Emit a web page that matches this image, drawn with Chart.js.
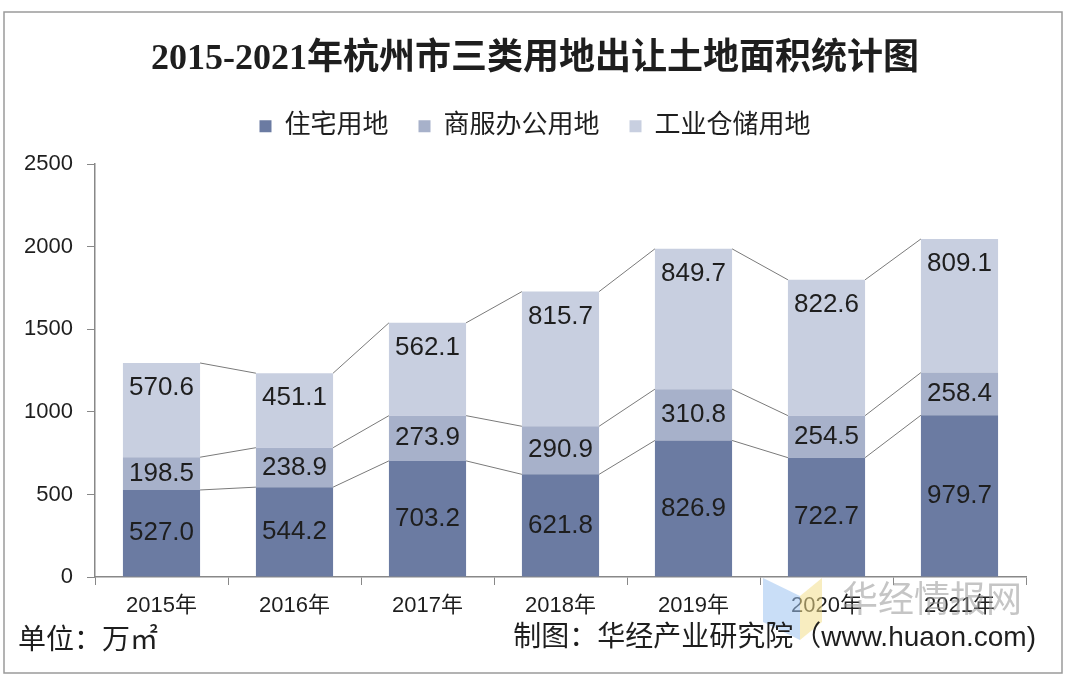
<!DOCTYPE html>
<html>
<head>
<meta charset="utf-8">
<script src="https://cdn.jsdelivr.net/npm/chart.js@4"></script>
<style>
  html, body { margin: 0; padding: 0; background: #fff; }
  canvas { display: block; }
</style>
</head>
<body>
<canvas id="landChart" width="1070" height="688"></canvas>
<script>
// chart data
const years = ['2015年', '2016年', '2017年', '2018年', '2019年', '2020年', '2021年'];
const residential = [527.0, 544.2, 703.2, 621.8, 826.9, 722.7, 979.7];
const commercial = [198.5, 238.9, 273.9, 290.9, 310.8, 254.5, 258.4];
const industrial = [570.6, 451.1, 562.1, 815.7, 849.7, 822.6, 809.1];
const seriesNames = ['住宅用地', '商服办公用地', '工业仓储用地'];
const yTicks = [0, 500, 1000, 1500, 2000, 2500];

const colors = ['#6b7ba2', '#a7b1ca', '#c8cfe0'];
const sansFont = "'Liberation Sans', 'Noto Sans CJK SC', sans-serif";

// Excel-style series lines between stacked bars
const seriesLines = {
    id: 'seriesLines',
    beforeDatasetsDraw(chart) {
        const ctx = chart.ctx;
        ctx.save();
        ctx.strokeStyle = '#7a7a7a';
        ctx.lineWidth = 1;
        chart.data.datasets.forEach((ds, di) => {
            const bars = chart.getDatasetMeta(di).data;
            for (let i = 0; i < bars.length - 1; i++) {
                const a = bars[i], b = bars[i + 1];
                ctx.beginPath();
                ctx.moveTo(a.x + a.width / 2, a.y);
                ctx.lineTo(b.x - b.width / 2, b.y);
                ctx.stroke();
            }
        });
        ctx.restore();
    }
};

// value labels inside each segment
const valueLabels = {
    id: 'valueLabels',
    afterDatasetsDraw(chart) {
        const ctx = chart.ctx;
        ctx.save();
        ctx.font = "26px " + sansFont;
        ctx.fillStyle = '#1e1e1e';
        ctx.textAlign = 'center';
        ctx.textBaseline = 'middle';
        const last = chart.data.datasets.length - 1;
        chart.data.datasets.forEach((ds, di) => {
            chart.getDatasetMeta(di).data.forEach((bar, i) => {
                const y = di === last ? bar.y + 25 : (bar.y + bar.base) / 2;
                ctx.fillText(ds.data[i].toFixed(1), bar.x, y);
            });
        });
        ctx.restore();
    }
};

// frame, footer notes and watermark
const decorations = {
    id: 'decorations',
    afterDraw(chart) {
        const ctx = chart.ctx;
        ctx.save();
        ctx.strokeStyle = '#9a9a9a';
        ctx.lineWidth = 1.5;
        ctx.strokeRect(4, 12, 1058, 661);

        // watermark
        ctx.globalAlpha = 0.55;
        ctx.fillStyle = '#9cc3f0';
        ctx.beginPath();
        ctx.moveTo(763, 578); ctx.lineTo(800, 596); ctx.lineTo(800, 640); ctx.lineTo(763, 622);
        ctx.closePath(); ctx.fill();
        ctx.fillStyle = '#f3df8c';
        ctx.beginPath();
        ctx.moveTo(800, 596); ctx.lineTo(822, 578); ctx.lineTo(822, 622); ctx.lineTo(800, 640);
        ctx.closePath(); ctx.fill();
        ctx.globalAlpha = 1;
        ctx.fillStyle = 'rgba(150,150,150,0.55)';
        ctx.font = "36px 'Noto Sans CJK SC', sans-serif";
        ctx.textAlign = 'left';
        ctx.textBaseline = 'middle';
        ctx.fillText('华经情报网', 842, 598);

        ctx.fillStyle = '#1e1e1e';
        ctx.font = "28px " + sansFont;
        ctx.textBaseline = 'middle';
        ctx.textAlign = 'left';
        ctx.fillText('单位：万㎡', 18, 641);
        ctx.textAlign = 'right';
        ctx.fillText('制图：华经产业研究院（www.huaon.com)', 1036, 638);
        ctx.restore();
    }
};

const ctx = document.getElementById('landChart').getContext('2d');
const landChart = new Chart(ctx, {
    type: 'bar',
    data: {
        labels: years,
        datasets: [
            { label: seriesNames[0], data: residential, backgroundColor: colors[0] },
            { label: seriesNames[1], data: commercial, backgroundColor: colors[1] },
            { label: seriesNames[2], data: industrial, backgroundColor: colors[2] }
        ]
    },
    options: {
        responsive: false,
        animation: false,
        devicePixelRatio: 1,
        layout: { padding: { top: 38, left: 22, right: 22, bottom: 61 } },
        datasets: {
            bar: { categoryPercentage: 1, barPercentage: 0.58 }
        },
        scales: {
            x: {
                stacked: true,
                afterFit: s => { s.height = 50; },
                border: { color: '#888', width: 1.5 },
                grid: { display: true, offset: true, drawOnChartArea: false, tickLength: 8, color: '#888' },
                ticks: { color: '#1e1e1e', font: { size: 22, family: sansFont }, padding: 8 }
            },
            y: {
                stacked: true,
                min: 0,
                max: 2500,
                afterFit: s => { s.width = 73; },
                afterBuildTicks: s => { s.ticks = yTicks.map(v => ({ value: v })); },
                border: { color: '#888', width: 1.5 },
                grid: { display: true, drawOnChartArea: false, tickLength: 8, color: '#888' },
                ticks: {
                    color: '#1e1e1e',
                    font: { size: 22, family: sansFont },
                    padding: 14,
                    callback: v => String(v)
                }
            },
            // empty right-hand margin so the plot ends where the reference does
            yRight: {
                position: 'right',
                afterFit: s => { s.width = 22; },
                grid: { display: false },
                border: { display: false },
                ticks: { display: false }
            }
        },
        plugins: {
            title: {
                display: true,
                text: '2015-2021年杭州市三类用地出让土地面积统计图',
                color: '#1e1e1e',
                font: { size: 36, weight: 'bold', family: "'Liberation Serif', 'Noto Sans CJK SC', serif" },
                padding: { top: 0, bottom: 2 }
            },
            // blank spacer between legend and plot
            subtitle: {
                display: true,
                text: ' ',
                weight: 500,
                font: { size: 5, lineHeight: 1 },
                padding: { top: 6, bottom: 4 }
            },
            legend: {
                position: 'top',
                labels: {
                    color: '#1e1e1e',
                    font: { size: 26, family: sansFont },
                    boxWidth: 12,
                    boxHeight: 12,
                    padding: 30
                }
            },
            tooltip: { enabled: false }
        }
    },
    plugins: [seriesLines, valueLabels, decorations]
});
</script>
</body>
</html>
